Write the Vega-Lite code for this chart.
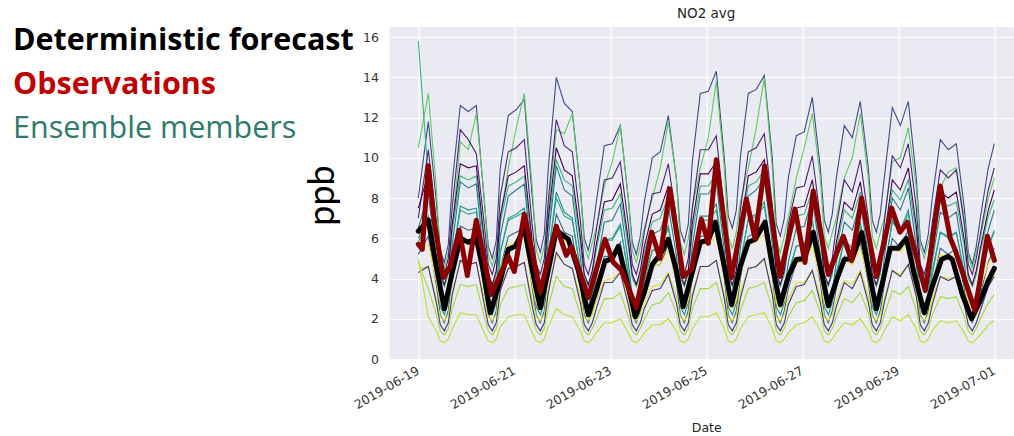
{
  "$schema": "https://vega.github.io/schema/vega-lite/v6.json",
  "background": "white",
  "padding": {"left": 13, "top": 6, "right": 0, "bottom": 0},
  "bounds": "flush",
  "spacing": 76.5,
  "config": {
    "view": {"stroke": null},
    "axis": {"labelFont": "DejaVu Sans", "titleFont": "DejaVu Sans", "labelColor": "#333333", "titleColor": "#262626", "ticks": false, "tickSize": 0, "domain": false, "gridColor": "white", "gridWidth": 1.2, "labelFontSize": 12.5, "titleFontWeight": "normal"}
  },
  "datasets": {
    "labels": [
      {"line": 1, "label": "Deterministic forecast"},
      {"line": 2, "label": "Observations"},
      {"line": 3, "label": "Ensemble members"}
    ],
    "members": [
      {"t":"2019-06-19T00:00","A":8.0,"B":10.5,"C":15.8,"D":7.0,"E":7.5,"F":6.5,"G":6.0,"H":5.2,"I":5.8,"L":5.6,"M":4.5,"N":4.3,"P":4.8,"Q":5.0},
      {"t":"2019-06-19T05:00","A":11.8,"B":13.2,"C":9.0,"D":10.4,"E":9.2,"F":8.2,"G":7.1,"H":6.1,"I":6.9,"L":5.7,"M":4.6,"N":4.6,"P":3.5,"Q":2.1},
      {"t":"2019-06-19T09:00","A":7.8,"B":8.5,"C":5.8,"D":6.8,"E":6.0,"F":5.0,"G":4.3,"H":3.7,"I":4.5,"L":3.9,"M":3.0,"N":2.8,"P":2.2,"Q":1.4},
      {"t":"2019-06-19T11:00","A":5.4,"B":5.1,"C":4.0,"D":4.7,"E":4.2,"F":3.1,"G":2.6,"H":2.2,"I":3.0,"L":2.8,"M":2.1,"N":1.7,"P":1.4,"Q":0.9},
      {"t":"2019-06-19T13:00","A":4.8,"B":4.5,"C":3.6,"D":4.2,"E":3.7,"F":2.6,"G":2.2,"H":1.8,"I":2.6,"L":2.5,"M":1.9,"N":1.4,"P":1.2,"Q":0.8},
      {"t":"2019-06-19T15:00","A":5.7,"B":5.3,"C":4.2,"D":5.0,"E":4.4,"F":3.3,"G":2.8,"H":2.4,"I":3.2,"L":2.9,"M":2.2,"N":1.8,"P":1.5,"Q":1.0},
      {"t":"2019-06-19T17:00","A":8.8,"B":6.5,"C":6.4,"D":7.6,"E":6.7,"F":5.7,"G":4.9,"H":4.2,"I":5.0,"L":4.3,"M":3.4,"N":3.2,"P":2.5,"Q":1.5},
      {"t":"2019-06-19T21:00","A":12.6,"B":10.8,"C":9.1,"D":11.4,"E":9.7,"F":8.8,"G":7.6,"H":6.6,"I":7.4,"L":6.0,"M":4.8,"N":4.9,"P":3.7,"Q":2.3},
      {"t":"2019-06-20T01:00","A":12.3,"B":10.4,"C":8.9,"D":10.9,"E":9.5,"F":8.5,"G":7.4,"H":6.4,"I":7.2,"L":5.9,"M":4.7,"N":4.7,"P":3.6,"Q":2.2},
      {"t":"2019-06-20T05:00","A":12.6,"B":12.2,"C":9.1,"D":10.2,"E":9.6,"F":8.7,"G":7.5,"H":6.5,"I":7.3,"L":6.0,"M":4.8,"N":4.8,"P":3.7,"Q":2.2},
      {"t":"2019-06-20T09:00","A":7.8,"B":8.0,"C":5.6,"D":6.7,"E":5.9,"F":4.8,"G":4.2,"H":3.5,"I":4.3,"L":3.8,"M":3.0,"N":2.7,"P":2.1,"Q":1.3},
      {"t":"2019-06-20T11:00","A":5.6,"B":5.2,"C":4.0,"D":4.7,"E":4.2,"F":3.1,"G":2.6,"H":2.2,"I":3.0,"L":2.8,"M":2.1,"N":1.7,"P":1.4,"Q":0.9},
      {"t":"2019-06-20T13:00","A":5.0,"B":4.6,"C":3.6,"D":4.2,"E":3.7,"F":2.6,"G":2.2,"H":1.8,"I":2.6,"L":2.5,"M":1.9,"N":1.4,"P":1.2,"Q":0.8},
      {"t":"2019-06-20T15:00","A":5.9,"B":5.4,"C":4.2,"D":5.0,"E":4.4,"F":3.3,"G":2.8,"H":2.4,"I":3.2,"L":2.9,"M":2.2,"N":1.8,"P":1.5,"Q":1.0},
      {"t":"2019-06-20T17:00","A":9.5,"B":7.0,"C":6.8,"D":8.1,"E":7.1,"F":6.1,"G":5.3,"H":4.5,"I":5.3,"L":4.5,"M":3.6,"N":3.4,"P":2.7,"Q":1.6},
      {"t":"2019-06-20T21:00","A":12.1,"B":9.5,"C":8.6,"D":10.3,"E":9.1,"F":8.1,"G":7.0,"H":6.1,"I":6.9,"L":5.7,"M":4.5,"N":4.5,"P":3.5,"Q":2.1},
      {"t":"2019-06-21T01:00","A":12.4,"B":11.5,"C":8.8,"D":10.5,"E":9.3,"F":8.4,"G":7.2,"H":6.3,"I":7.1,"L":5.8,"M":4.6,"N":4.6,"P":3.6,"Q":2.2},
      {"t":"2019-06-21T05:00","A":12.9,"B":13.2,"C":9.1,"D":10.9,"E":9.6,"F":8.7,"G":7.5,"H":6.5,"I":7.3,"L":6.0,"M":4.8,"N":4.8,"P":3.7,"Q":2.2},
      {"t":"2019-06-21T09:00","A":8.0,"B":8.5,"C":5.5,"D":6.6,"E":5.8,"F":4.8,"G":4.1,"H":3.5,"I":4.3,"L":3.7,"M":2.9,"N":2.6,"P":2.1,"Q":1.3},
      {"t":"2019-06-21T11:00","A":5.9,"B":5.4,"C":4.0,"D":4.7,"E":4.2,"F":3.1,"G":2.6,"H":2.2,"I":3.0,"L":2.8,"M":2.1,"N":1.7,"P":1.4,"Q":0.9},
      {"t":"2019-06-21T13:00","A":5.3,"B":4.8,"C":3.6,"D":4.2,"E":3.7,"F":2.6,"G":2.2,"H":1.8,"I":2.6,"L":2.5,"M":1.9,"N":1.4,"P":1.2,"Q":0.8},
      {"t":"2019-06-21T15:00","A":6.2,"B":5.6,"C":4.2,"D":5.0,"E":4.4,"F":3.3,"G":2.8,"H":2.4,"I":3.2,"L":2.9,"M":2.2,"N":1.8,"P":1.5,"Q":1.0},
      {"t":"2019-06-21T17:00","A":9.5,"B":7.5,"C":6.6,"D":7.9,"E":7.0,"F":6.0,"G":5.1,"H":4.4,"I":5.2,"L":4.4,"M":3.5,"N":3.3,"P":2.6,"Q":1.6},
      {"t":"2019-06-21T21:00","A":14.0,"B":11.4,"C":9.9,"D":11.9,"E":10.5,"F":9.6,"G":8.3,"H":7.2,"I":8.0,"L":6.5,"M":5.2,"N":5.3,"P":4.1,"Q":2.5},
      {"t":"2019-06-22T01:00","A":12.7,"B":11.2,"C":8.9,"D":10.6,"E":9.4,"F":8.4,"G":7.3,"H":6.3,"I":7.1,"L":5.9,"M":4.7,"N":4.7,"P":3.6,"Q":2.2},
      {"t":"2019-06-22T05:00","A":12.3,"B":12.2,"C":8.6,"D":10.3,"E":9.1,"F":8.1,"G":7.0,"H":6.1,"I":6.9,"L":5.7,"M":4.5,"N":4.5,"P":3.5,"Q":2.1},
      {"t":"2019-06-22T09:00","A":8.5,"B":8.5,"C":5.8,"D":6.9,"E":6.1,"F":5.1,"G":4.4,"H":3.7,"I":4.5,"L":3.9,"M":3.1,"N":2.8,"P":2.2,"Q":1.4},
      {"t":"2019-06-22T11:00","A":6.0,"B":5.6,"C":4.0,"D":4.7,"E":4.2,"F":3.1,"G":2.6,"H":2.2,"I":3.0,"L":2.8,"M":2.1,"N":1.7,"P":1.4,"Q":0.9},
      {"t":"2019-06-22T13:00","A":5.4,"B":5.0,"C":3.6,"D":4.2,"E":3.7,"F":2.6,"G":2.2,"H":1.8,"I":2.6,"L":2.5,"M":1.9,"N":1.4,"P":1.2,"Q":0.8},
      {"t":"2019-06-22T15:00","A":6.3,"B":5.8,"C":4.2,"D":5.0,"E":4.4,"F":3.3,"G":2.8,"H":2.4,"I":3.2,"L":2.9,"M":2.2,"N":1.8,"P":1.5,"Q":1.0},
      {"t":"2019-06-22T17:00","A":7.8,"B":6.5,"C":5.4,"D":6.4,"E":5.7,"F":4.6,"G":4.0,"H":3.4,"I":4.2,"L":3.7,"M":2.9,"N":2.5,"P":2.0,"Q":1.3},
      {"t":"2019-06-22T21:00","A":10.6,"B":8.6,"C":7.4,"D":8.9,"E":7.8,"F":6.8,"G":5.9,"H":5.1,"I":5.9,"L":4.9,"M":3.9,"N":3.8,"P":3.0,"Q":1.8},
      {"t":"2019-06-23T01:00","A":10.7,"B":9.8,"C":7.5,"D":9.0,"E":7.9,"F":6.9,"G":6.0,"H":5.1,"I":5.9,"L":5.0,"M":4.0,"N":3.8,"P":3.0,"Q":1.8},
      {"t":"2019-06-23T05:00","A":11.6,"B":11.6,"C":8.2,"D":9.8,"E":8.7,"F":7.7,"G":6.7,"H":5.8,"I":6.6,"L":5.4,"M":4.3,"N":4.3,"P":3.3,"Q":2.0},
      {"t":"2019-06-23T09:00","A":8.0,"B":8.0,"C":5.6,"D":6.7,"E":5.9,"F":4.8,"G":4.2,"H":3.5,"I":4.3,"L":3.8,"M":3.0,"N":2.7,"P":2.1,"Q":1.3},
      {"t":"2019-06-23T11:00","A":5.8,"B":5.4,"C":4.0,"D":4.7,"E":4.2,"F":3.1,"G":2.6,"H":2.2,"I":3.0,"L":2.8,"M":2.1,"N":1.7,"P":1.4,"Q":0.9},
      {"t":"2019-06-23T13:00","A":5.2,"B":4.8,"C":3.6,"D":4.2,"E":3.7,"F":2.6,"G":2.2,"H":1.8,"I":2.6,"L":2.5,"M":1.9,"N":1.4,"P":1.2,"Q":0.8},
      {"t":"2019-06-23T15:00","A":6.1,"B":5.6,"C":4.2,"D":5.0,"E":4.4,"F":3.3,"G":2.8,"H":2.4,"I":3.2,"L":2.9,"M":2.2,"N":1.8,"P":1.5,"Q":1.0},
      {"t":"2019-06-23T17:00","A":7.8,"B":6.5,"C":5.3,"D":6.3,"E":5.6,"F":4.5,"G":3.9,"H":3.3,"I":4.1,"L":3.6,"M":2.8,"N":2.5,"P":2.0,"Q":1.3},
      {"t":"2019-06-23T21:00","A":10.0,"B":8.0,"C":6.8,"D":8.2,"E":7.2,"F":6.2,"G":5.4,"H":4.6,"I":5.4,"L":4.6,"M":3.6,"N":3.4,"P":2.7,"Q":1.7},
      {"t":"2019-06-24T01:00","A":10.3,"B":9.5,"C":7.0,"D":8.3,"E":7.4,"F":6.4,"G":5.5,"H":4.7,"I":5.5,"L":4.7,"M":3.7,"N":3.5,"P":2.8,"Q":1.7},
      {"t":"2019-06-24T05:00","A":12.1,"B":11.8,"C":8.1,"D":9.7,"E":8.6,"F":7.6,"G":6.6,"H":5.7,"I":6.5,"L":5.4,"M":4.3,"N":4.2,"P":3.3,"Q":2.0},
      {"t":"2019-06-24T09:00","A":9.0,"B":9.0,"C":5.9,"D":7.0,"E":6.2,"F":5.2,"G":4.4,"H":3.8,"I":4.6,"L":4.0,"M":3.1,"N":2.8,"P":2.3,"Q":1.4},
      {"t":"2019-06-24T11:00","A":6.4,"B":5.8,"C":4.0,"D":4.7,"E":4.2,"F":3.1,"G":2.6,"H":2.2,"I":3.0,"L":2.8,"M":2.1,"N":1.7,"P":1.4,"Q":0.9},
      {"t":"2019-06-24T13:00","A":5.8,"B":5.2,"C":3.6,"D":4.2,"E":3.7,"F":2.6,"G":2.2,"H":1.8,"I":2.6,"L":2.5,"M":1.9,"N":1.4,"P":1.2,"Q":0.8},
      {"t":"2019-06-24T15:00","A":6.7,"B":6.0,"C":4.2,"D":5.0,"E":4.4,"F":3.3,"G":2.8,"H":2.4,"I":3.2,"L":2.9,"M":2.2,"N":1.8,"P":1.5,"Q":1.0},
      {"t":"2019-06-24T17:00","A":9.8,"B":7.5,"C":6.3,"D":7.5,"E":6.7,"F":5.6,"G":4.9,"H":4.2,"I":5.0,"L":4.2,"M":3.3,"N":3.1,"P":2.5,"Q":1.5},
      {"t":"2019-06-24T21:00","A":13.2,"B":9.5,"C":8.6,"D":10.4,"E":9.2,"F":8.2,"G":7.1,"H":6.1,"I":6.9,"L":5.7,"M":4.6,"N":4.6,"P":3.5,"Q":2.1},
      {"t":"2019-06-25T01:00","A":13.3,"B":11.0,"C":8.6,"D":10.4,"E":9.2,"F":8.2,"G":7.1,"H":6.1,"I":6.9,"L":5.7,"M":4.6,"N":4.6,"P":3.5,"Q":2.1},
      {"t":"2019-06-25T05:00","A":14.3,"B":13.8,"C":9.2,"D":11.1,"E":9.8,"F":8.8,"G":7.7,"H":6.6,"I":7.4,"L":6.1,"M":4.9,"N":4.9,"P":3.8,"Q":2.3},
      {"t":"2019-06-25T09:00","A":10.0,"B":9.5,"C":6.1,"D":7.3,"E":6.4,"F":5.4,"G":4.7,"H":4.0,"I":4.8,"L":4.1,"M":3.2,"N":3.0,"P":2.4,"Q":1.5},
      {"t":"2019-06-25T11:00","A":7.1,"B":6.1,"C":4.0,"D":4.7,"E":4.2,"F":3.1,"G":2.6,"H":2.2,"I":3.0,"L":2.8,"M":2.1,"N":1.7,"P":1.4,"Q":0.9},
      {"t":"2019-06-25T13:00","A":6.5,"B":5.5,"C":3.6,"D":4.2,"E":3.7,"F":2.6,"G":2.2,"H":1.8,"I":2.6,"L":2.5,"M":1.9,"N":1.4,"P":1.2,"Q":0.8},
      {"t":"2019-06-25T15:00","A":7.4,"B":6.3,"C":4.2,"D":5.0,"E":4.4,"F":3.3,"G":2.8,"H":2.4,"I":3.2,"L":2.9,"M":2.2,"N":1.8,"P":1.5,"Q":1.0},
      {"t":"2019-06-25T17:00","A":10.0,"B":7.8,"C":6.2,"D":7.4,"E":6.5,"F":5.5,"G":4.7,"H":4.0,"I":4.8,"L":4.2,"M":3.3,"N":3.0,"P":2.4,"Q":1.5},
      {"t":"2019-06-25T21:00","A":13.2,"B":9.5,"C":8.6,"D":10.3,"E":9.1,"F":8.1,"G":7.0,"H":6.1,"I":6.9,"L":5.7,"M":4.5,"N":4.5,"P":3.5,"Q":2.1},
      {"t":"2019-06-26T01:00","A":13.4,"B":11.5,"C":8.8,"D":10.5,"E":9.3,"F":8.4,"G":7.2,"H":6.3,"I":7.1,"L":5.8,"M":4.6,"N":4.6,"P":3.6,"Q":2.2},
      {"t":"2019-06-26T05:00","A":14.1,"B":14.0,"C":9.4,"D":11.2,"E":9.9,"F":9.0,"G":7.8,"H":6.8,"I":7.6,"L":6.2,"M":4.9,"N":5.0,"P":3.8,"Q":2.3},
      {"t":"2019-06-26T09:00","A":10.0,"B":9.5,"C":6.4,"D":7.6,"E":6.7,"F":5.7,"G":4.9,"H":4.2,"I":5.0,"L":4.3,"M":3.4,"N":3.2,"P":2.5,"Q":1.5},
      {"t":"2019-06-26T11:00","A":6.7,"B":5.9,"C":4.0,"D":4.7,"E":4.2,"F":3.1,"G":2.6,"H":2.2,"I":3.0,"L":2.8,"M":2.1,"N":1.7,"P":1.4,"Q":0.9},
      {"t":"2019-06-26T13:00","A":6.1,"B":5.3,"C":3.6,"D":4.2,"E":3.7,"F":2.6,"G":2.2,"H":1.8,"I":2.6,"L":2.5,"M":1.9,"N":1.4,"P":1.2,"Q":0.8},
      {"t":"2019-06-26T15:00","A":7.0,"B":6.1,"C":4.2,"D":5.0,"E":4.4,"F":3.3,"G":2.8,"H":2.4,"I":3.2,"L":2.9,"M":2.2,"N":1.8,"P":1.5,"Q":1.0},
      {"t":"2019-06-26T17:00","A":9.0,"B":7.0,"C":5.6,"D":6.7,"E":5.9,"F":4.8,"G":4.2,"H":3.5,"I":4.3,"L":3.8,"M":3.0,"N":2.7,"P":2.1,"Q":1.3},
      {"t":"2019-06-26T21:00","A":11.1,"B":9.0,"C":7.1,"D":8.5,"E":7.5,"F":6.5,"G":5.6,"H":4.8,"I":5.6,"L":4.8,"M":3.8,"N":3.6,"P":2.8,"Q":1.7},
      {"t":"2019-06-27T01:00","A":11.3,"B":10.5,"C":7.2,"D":8.6,"E":7.6,"F":6.6,"G":5.7,"H":4.9,"I":5.7,"L":4.8,"M":3.8,"N":3.7,"P":2.9,"Q":1.8},
      {"t":"2019-06-27T05:00","A":13.0,"B":12.2,"C":8.4,"D":10.1,"E":8.9,"F":8.0,"G":6.9,"H":6.0,"I":6.8,"L":5.6,"M":4.4,"N":4.4,"P":3.4,"Q":2.1},
      {"t":"2019-06-27T09:00","A":9.5,"B":9.0,"C":5.9,"D":7.0,"E":6.2,"F":5.2,"G":4.4,"H":3.8,"I":4.6,"L":4.0,"M":3.1,"N":2.8,"P":2.3,"Q":1.4},
      {"t":"2019-06-27T11:00","A":6.9,"B":6.1,"C":4.0,"D":4.7,"E":4.2,"F":3.1,"G":2.6,"H":2.2,"I":3.0,"L":2.8,"M":2.1,"N":1.7,"P":1.4,"Q":0.9},
      {"t":"2019-06-27T13:00","A":6.3,"B":5.5,"C":3.6,"D":4.2,"E":3.7,"F":2.6,"G":2.2,"H":1.8,"I":2.6,"L":2.5,"M":1.9,"N":1.4,"P":1.2,"Q":0.8},
      {"t":"2019-06-27T15:00","A":7.2,"B":6.3,"C":4.2,"D":5.0,"E":4.4,"F":3.3,"G":2.8,"H":2.4,"I":3.2,"L":2.9,"M":2.2,"N":1.8,"P":1.5,"Q":1.0},
      {"t":"2019-06-27T17:00","A":9.0,"B":7.0,"C":5.5,"D":6.6,"E":5.8,"F":4.8,"G":4.1,"H":3.5,"I":4.3,"L":3.7,"M":2.9,"N":2.6,"P":2.1,"Q":1.3},
      {"t":"2019-06-27T21:00","A":11.6,"B":9.0,"C":7.4,"D":8.9,"E":7.8,"F":6.8,"G":5.9,"H":5.1,"I":5.9,"L":4.9,"M":3.9,"N":3.8,"P":3.0,"Q":1.8},
      {"t":"2019-06-28T01:00","A":11.0,"B":10.0,"C":7.0,"D":8.3,"E":7.4,"F":6.4,"G":5.5,"H":4.7,"I":5.5,"L":4.7,"M":3.7,"N":3.5,"P":2.8,"Q":1.7},
      {"t":"2019-06-28T05:00","A":12.8,"B":12.2,"C":8.3,"D":9.9,"E":8.8,"F":7.8,"G":6.8,"H":5.8,"I":6.6,"L":5.5,"M":4.4,"N":4.3,"P":3.3,"Q":2.0},
      {"t":"2019-06-28T09:00","A":9.5,"B":9.0,"C":5.9,"D":7.0,"E":6.2,"F":5.2,"G":4.4,"H":3.8,"I":4.6,"L":4.0,"M":3.1,"N":2.8,"P":2.3,"Q":1.4},
      {"t":"2019-06-28T11:00","A":6.9,"B":6.1,"C":4.0,"D":4.7,"E":4.2,"F":3.1,"G":2.6,"H":2.2,"I":3.0,"L":2.8,"M":2.1,"N":1.7,"P":1.4,"Q":0.9},
      {"t":"2019-06-28T13:00","A":6.3,"B":5.5,"C":3.6,"D":4.2,"E":3.7,"F":2.6,"G":2.2,"H":1.8,"I":2.6,"L":2.5,"M":1.9,"N":1.4,"P":1.2,"Q":0.8},
      {"t":"2019-06-28T15:00","A":7.2,"B":6.3,"C":4.2,"D":5.0,"E":4.4,"F":3.3,"G":2.8,"H":2.4,"I":3.2,"L":2.9,"M":2.2,"N":1.8,"P":1.5,"Q":1.0},
      {"t":"2019-06-28T17:00","A":9.0,"B":7.0,"C":5.8,"D":6.8,"E":6.0,"F":5.0,"G":4.3,"H":3.7,"I":4.5,"L":3.9,"M":3.0,"N":2.8,"P":2.2,"Q":1.4},
      {"t":"2019-06-28T21:00","A":12.5,"B":9.8,"C":8.4,"D":10.1,"E":8.9,"F":8.0,"G":6.9,"H":6.0,"I":6.8,"L":5.6,"M":4.4,"N":4.4,"P":3.4,"Q":2.1},
      {"t":"2019-06-29T01:00","A":11.6,"B":10.0,"C":7.9,"D":9.5,"E":8.4,"F":7.4,"G":6.4,"H":5.5,"I":6.3,"L":5.3,"M":4.2,"N":4.1,"P":3.2,"Q":1.9},
      {"t":"2019-06-29T05:00","A":12.8,"B":11.5,"C":8.9,"D":10.7,"E":9.5,"F":8.5,"G":7.4,"H":6.4,"I":7.2,"L":5.9,"M":4.7,"N":4.7,"P":3.6,"Q":2.2},
      {"t":"2019-06-29T09:00","A":9.0,"B":8.5,"C":6.3,"D":7.5,"E":6.6,"F":5.6,"G":4.8,"H":4.1,"I":4.9,"L":4.2,"M":3.3,"N":3.1,"P":2.4,"Q":1.5},
      {"t":"2019-06-29T11:00","A":5.9,"B":5.6,"C":4.0,"D":4.7,"E":4.2,"F":3.1,"G":2.6,"H":2.2,"I":3.0,"L":2.8,"M":2.1,"N":1.7,"P":1.4,"Q":0.9},
      {"t":"2019-06-29T13:00","A":5.3,"B":5.0,"C":3.6,"D":4.2,"E":3.7,"F":2.6,"G":2.2,"H":1.8,"I":2.6,"L":2.5,"M":1.9,"N":1.4,"P":1.2,"Q":0.8},
      {"t":"2019-06-29T15:00","A":6.2,"B":5.8,"C":4.2,"D":5.0,"E":4.4,"F":3.3,"G":2.8,"H":2.4,"I":3.2,"L":2.9,"M":2.2,"N":1.8,"P":1.5,"Q":1.0},
      {"t":"2019-06-29T17:00","A":8.0,"B":6.5,"C":5.7,"D":6.8,"E":6.0,"F":4.9,"G":4.2,"H":3.6,"I":4.4,"L":3.8,"M":3.0,"N":2.7,"P":2.2,"Q":1.4},
      {"t":"2019-06-29T21:00","A":10.9,"B":8.5,"C":7.8,"D":9.4,"E":8.3,"F":7.3,"G":6.3,"H":5.5,"I":6.3,"L":5.2,"M":4.1,"N":4.1,"P":3.1,"Q":1.9},
      {"t":"2019-06-30T01:00","A":10.4,"B":9.3,"C":7.6,"D":9.0,"E":8.0,"F":7.0,"G":6.1,"H":5.2,"I":6.0,"L":5.0,"M":4.0,"N":3.9,"P":3.0,"Q":1.8},
      {"t":"2019-06-30T05:00","A":10.7,"B":9.5,"C":7.8,"D":9.4,"E":8.3,"F":7.3,"G":6.3,"H":5.5,"I":6.3,"L":5.2,"M":4.1,"N":4.1,"P":3.1,"Q":1.9},
      {"t":"2019-06-30T09:00","A":7.5,"B":7.0,"C":5.6,"D":6.7,"E":5.9,"F":4.8,"G":4.2,"H":3.5,"I":4.3,"L":3.8,"M":3.0,"N":2.7,"P":2.1,"Q":1.3},
      {"t":"2019-06-30T11:00","A":5.3,"B":5.1,"C":4.0,"D":4.7,"E":4.2,"F":3.1,"G":2.6,"H":2.2,"I":3.0,"L":2.8,"M":2.1,"N":1.7,"P":1.4,"Q":0.9},
      {"t":"2019-06-30T13:00","A":4.7,"B":4.5,"C":3.6,"D":4.2,"E":3.7,"F":2.6,"G":2.2,"H":1.8,"I":2.6,"L":2.5,"M":1.9,"N":1.4,"P":1.2,"Q":0.8},
      {"t":"2019-06-30T15:00","A":5.6,"B":5.3,"C":4.2,"D":5.0,"E":4.4,"F":3.3,"G":2.8,"H":2.4,"I":3.2,"L":2.9,"M":2.2,"N":1.8,"P":1.5,"Q":1.0},
      {"t":"2019-06-30T17:00","A":7.0,"B":6.0,"C":5.3,"D":6.2,"E":5.5,"F":4.4,"G":3.8,"H":3.2,"I":4.0,"L":3.6,"M":2.8,"N":2.4,"P":2.0,"Q":1.2},
      {"t":"2019-06-30T21:00","A":9.5,"B":8.0,"C":7.1,"D":8.4,"E":7.4,"F":6.4,"G":5.6,"H":4.8,"I":5.6,"L":4.7,"M":3.7,"N":3.6,"P":2.8,"Q":1.7},
      {"t":"2019-07-01T00:00","A":10.7,"B":9.0,"C":7.9,"D":9.5,"E":8.4,"F":7.4,"G":6.4,"H":5.5,"I":6.3,"L":5.3,"M":4.2,"N":4.1,"P":3.2,"Q":1.9}
    ],
    "det": [
      {"t":"2019-06-19T00:00","v":6.35},{"t":"2019-06-19T05:00","v":6.9},{"t":"2019-06-19T09:00","v":4.6},{"t":"2019-06-19T13:00","v":2.5},{"t":"2019-06-19T17:00","v":4.3},{"t":"2019-06-19T21:00","v":6.0},
      {"t":"2019-06-20T01:00","v":5.8},{"t":"2019-06-20T05:00","v":6.0},{"t":"2019-06-20T08:00","v":4.6},{"t":"2019-06-20T12:00","v":2.3},{"t":"2019-06-20T17:00","v":3.9},{"t":"2019-06-20T21:00","v":5.45},
      {"t":"2019-06-21T00:30","v":5.6},{"t":"2019-06-21T05:00","v":6.5},{"t":"2019-06-21T09:00","v":4.4},{"t":"2019-06-21T13:00","v":2.55},{"t":"2019-06-21T17:00","v":4.4},{"t":"2019-06-21T21:00","v":6.4},
      {"t":"2019-06-22T03:00","v":5.95},{"t":"2019-06-22T08:00","v":4.4},{"t":"2019-06-22T13:00","v":2.2},{"t":"2019-06-22T17:00","v":3.4},{"t":"2019-06-22T21:20","v":4.85},
      {"t":"2019-06-23T01:00","v":5.0},{"t":"2019-06-23T04:00","v":5.6},{"t":"2019-06-23T08:00","v":4.0},{"t":"2019-06-23T12:30","v":2.1},{"t":"2019-06-23T17:00","v":3.3},{"t":"2019-06-23T21:00","v":4.7},
      {"t":"2019-06-24T01:00","v":5.2},{"t":"2019-06-24T05:00","v":5.95},{"t":"2019-06-24T09:00","v":4.4},{"t":"2019-06-24T12:30","v":2.6},{"t":"2019-06-24T17:00","v":4.3},{"t":"2019-06-24T21:00","v":5.8},
      {"t":"2019-06-25T01:00","v":5.9},{"t":"2019-06-25T04:30","v":6.8},{"t":"2019-06-25T09:00","v":4.6},{"t":"2019-06-25T12:40","v":2.7},{"t":"2019-06-25T17:00","v":4.6},{"t":"2019-06-25T21:00","v":5.8},
      {"t":"2019-06-26T00:30","v":5.95},{"t":"2019-06-26T05:20","v":6.8},{"t":"2019-06-26T09:00","v":4.6},{"t":"2019-06-26T13:00","v":2.7},{"t":"2019-06-26T17:00","v":4.1},{"t":"2019-06-26T21:00","v":4.95},
      {"t":"2019-06-27T01:00","v":5.0},{"t":"2019-06-27T05:30","v":6.3},{"t":"2019-06-27T09:00","v":4.6},{"t":"2019-06-27T13:00","v":2.65},{"t":"2019-06-27T17:00","v":3.9},{"t":"2019-06-27T21:00","v":4.95},
      {"t":"2019-06-28T01:00","v":5.0},{"t":"2019-06-28T05:40","v":6.3},{"t":"2019-06-28T09:00","v":4.5},{"t":"2019-06-28T13:00","v":2.5},{"t":"2019-06-28T17:00","v":4.2},{"t":"2019-06-28T20:00","v":5.5},
      {"t":"2019-06-29T00:00","v":5.5},{"t":"2019-06-29T04:00","v":6.0},{"t":"2019-06-29T08:00","v":4.2},{"t":"2019-06-29T13:00","v":2.3},{"t":"2019-06-29T17:00","v":3.6},{"t":"2019-06-29T21:40","v":4.96},
      {"t":"2019-06-30T01:00","v":5.1},{"t":"2019-06-30T03:00","v":4.95},{"t":"2019-06-30T08:00","v":3.2},{"t":"2019-06-30T12:40","v":2.0},{"t":"2019-06-30T17:00","v":2.9},{"t":"2019-06-30T21:00","v":3.9},
      {"t":"2019-07-01T00:00","v":4.5}
    ],
    "obs": [
      {"t":"2019-06-19T00:00","v":5.7},{"t":"2019-06-19T02:00","v":5.45},{"t":"2019-06-19T05:00","v":9.6},{"t":"2019-06-19T08:00","v":6.8},{"t":"2019-06-19T12:30","v":4.05},{"t":"2019-06-19T16:00","v":4.6},{"t":"2019-06-19T20:30","v":6.4},
      {"t":"2019-06-20T00:30","v":4.15},{"t":"2019-06-20T05:00","v":6.9},{"t":"2019-06-20T12:30","v":3.2},{"t":"2019-06-20T21:00","v":5.1},
      {"t":"2019-06-21T00:00","v":4.35},{"t":"2019-06-21T05:00","v":7.2},{"t":"2019-06-21T13:00","v":3.35},{"t":"2019-06-21T21:00","v":6.6},
      {"t":"2019-06-22T02:00","v":5.15},{"t":"2019-06-22T04:30","v":5.6},{"t":"2019-06-22T13:00","v":3.05},{"t":"2019-06-22T21:20","v":5.95},
      {"t":"2019-06-23T01:30","v":4.8},{"t":"2019-06-23T05:40","v":4.4},{"t":"2019-06-23T13:00","v":2.55},{"t":"2019-06-23T20:40","v":6.3},
      {"t":"2019-06-24T00:50","v":5.0},{"t":"2019-06-24T05:50","v":8.45},{"t":"2019-06-24T12:30","v":4.1},{"t":"2019-06-24T16:40","v":4.45},{"t":"2019-06-24T21:30","v":6.95},
      {"t":"2019-06-25T01:00","v":5.75},{"t":"2019-06-25T05:00","v":9.9},{"t":"2019-06-25T12:30","v":4.05},{"t":"2019-06-25T20:00","v":7.95},
      {"t":"2019-06-26T00:20","v":6.0},{"t":"2019-06-26T05:10","v":9.6},{"t":"2019-06-26T12:50","v":4.1},{"t":"2019-06-26T20:20","v":7.45},
      {"t":"2019-06-27T01:20","v":4.8},{"t":"2019-06-27T05:30","v":8.35},{"t":"2019-06-27T13:00","v":4.2},{"t":"2019-06-27T20:30","v":6.1},
      {"t":"2019-06-28T00:40","v":4.9},{"t":"2019-06-28T05:40","v":8.0},{"t":"2019-06-28T13:00","v":4.1},{"t":"2019-06-28T20:40","v":7.5},
      {"t":"2019-06-29T00:50","v":6.3},{"t":"2019-06-29T04:30","v":6.8},{"t":"2019-06-29T13:30","v":3.4},{"t":"2019-06-29T21:00","v":8.6},
      {"t":"2019-06-30T02:00","v":6.0},{"t":"2019-06-30T04:30","v":5.4},{"t":"2019-06-30T14:20","v":2.4},{"t":"2019-06-30T20:30","v":6.1},
      {"t":"2019-07-01T00:00","v":4.9}
    ]
  },
  "hconcat": [
    {
      "width": 300,
      "height": 132,
      "data": {"name": "labels"},
      "encoding": {
        "x": {"datum": 0, "type": "quantitative", "scale": {"domain": [0, 1]}, "axis": null},
        "y": {"field": "line", "type": "ordinal", "scale": {"type": "point", "domain": [1, 2, 3], "padding": 0.5}, "axis": null},
        "text": {"field": "label", "type": "nominal"}
      },
      "layer": [
        {"transform": [{"filter": "datum.line == 1"}], "mark": {"type": "text", "align": "left", "baseline": "alphabetic", "font": "Open Sans", "fontSize": 30.5, "fontWeight": "bold", "color": "#000000", "dy": 1}},
        {"transform": [{"filter": "datum.line == 2"}], "mark": {"type": "text", "align": "left", "baseline": "alphabetic", "font": "Open Sans", "fontSize": 30.5, "fontWeight": "bold", "color": "#c00000", "dy": 1}},
        {"transform": [{"filter": "datum.line == 3"}], "mark": {"type": "text", "align": "left", "baseline": "alphabetic", "font": "Open Sans", "fontSize": 30.5, "fontWeight": "normal", "color": "#2e7b6b", "dy": 1}}
      ]
    },
    {
      "width": 624.4,
      "height": 332,
      "view": {"fill": "#eaeaf2", "stroke": null},
      "title": {"text": "NO2 avg", "font": "DejaVu Sans", "fontSize": 13.5, "fontWeight": "normal", "color": "#262626", "anchor": "middle", "frame": "group", "dx": 4.5, "offset": 7},
      "encoding": {
        "x": {
          "field": "t", "type": "temporal",
          "scale": {"domain": [{"year": 2019, "month": 6, "date": 18, "hours": 9, "minutes": 36}, {"year": 2019, "month": 7, "date": 1, "hours": 9, "minutes": 48}]},
          "axis": {
            "title": "Date",
            "values": [
              {"year": 2019, "month": 6, "date": 19}, {"year": 2019, "month": 6, "date": 21}, {"year": 2019, "month": 6, "date": 23},
              {"year": 2019, "month": 6, "date": 25}, {"year": 2019, "month": 6, "date": 27}, {"year": 2019, "month": 6, "date": 29},
              {"year": 2019, "month": 7, "date": 1}
            ],
            "format": "%Y-%m-%d",
            "labelAngle": -30, "labelAlign": "right", "labelBaseline": "top", "labelOffset": -3.5, "labelPadding": 5,
            "labelFlush": false, "labelOverlap": false, "labelBound": false,
            "titleFontSize": 12.5, "titleX": 316.7, "titleY": 72, "titleBaseline": "alphabetic", "titleAlign": "center"
          }
        },
        "y": {
          "field": "v", "type": "quantitative",
          "scale": {"domain": [0, 16.5], "nice": false, "zero": false},
          "axis": {
            "title": "ppb", "values": [0, 2, 4, 6, 8, 10, 12, 14, 16], "labelPadding": 11,
            "titleFont": "Lato", "titleFontSize": 36, "titleColor": "#000000", "titleAngle": -90,
            "titleX": -56.5, "titleY": 168, "titleBaseline": "alphabetic", "titleAlign": "center"
          }
        }
      },
      "layer": [
        {
          "data": {"name": "members"},
          "transform": [{"fold": ["A", "B", "C", "D", "E", "F", "G", "H", "I", "L", "M", "N", "P", "Q"], "as": ["m", "v"]}],
          "mark": {"type": "line", "strokeWidth": 1.1, "clip": true},
          "encoding": {
            "color": {
              "field": "m", "type": "nominal", "legend": null,
              "scale": {
                "domain": ["A", "B", "C", "D", "E", "F", "G", "H", "I", "L", "M", "N", "P", "Q"],
                "range": ["#3e4a89", "#5ec962", "#35b779", "#482475", "#440154", "#2a788e", "#21918c", "#31688e", "#22a884", "#fde725", "#d8e219", "#46327e", "#a0da39", "#bddf26"]
              }
            }
          }
        },
        {
          "data": {"name": "det"},
          "mark": {"type": "line", "color": "#000000", "strokeWidth": 5, "strokeJoin": "round", "strokeCap": "round"}
        },
        {
          "data": {"name": "obs"},
          "mark": {"type": "line", "color": "#8b0000", "strokeWidth": 5, "strokeJoin": "round", "strokeCap": "round"}
        }
      ]
    }
  ]
}
